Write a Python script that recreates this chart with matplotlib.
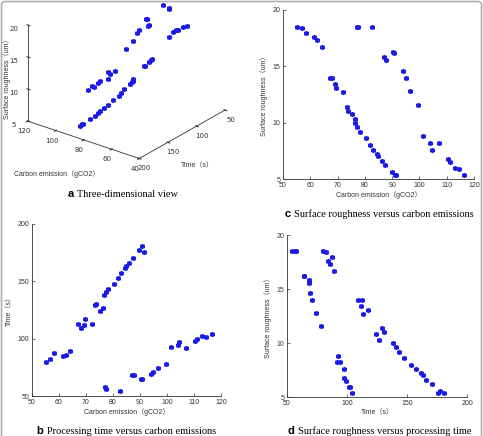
import matplotlib.pyplot as plt
from matplotlib.patches import FancyBboxPatch
import numpy as np

# carbon emission (gCO2), processing time (s), surface roughness (um)
carbon_a = [55.3, 56.8, 58.3, 61.3, 62.5, 64.2, 67.2, 68.0, 69.2, 69.5, 72.1, 73.5, 73.8,
            75.2, 76.4, 76.5, 77.3, 78.1, 80.5, 81.8, 83.1, 84.3, 84.9, 86.1, 87.5, 89.8, 90.9, 91.3]
time_a = [79.6, 82.5, 87.5, 84.5, 85.8, 89.5, 112.5, 109.5, 111.5, 117.5, 113.0, 129.0, 130.5,
          124.5, 127.0, 138.0, 141.0, 143.5, 147.5, 153.0, 157.5, 161.5, 163.0, 166.0, 170.5, 177.5, 180.5, 175.5]
rough_a = [18.5, 18.4, 18.0, 17.6, 17.3, 16.7, 14.0, 14.0, 13.4, 13.1, 12.7, 11.4, 11.0,
           10.8, 10.3, 10.0, 9.6, 9.2, 8.6, 8.0, 7.6, 7.2, 7.0, 6.6, 6.2, 5.6, 5.35, 5.35]

carbon_b = [77.0, 77.5, 82.7, 87.1, 87.6, 90.2, 90.8, 94.0, 94.9, 96.5, 99.6, 101.4, 104.0,
            104.6, 107.2, 110.3, 111.1, 112.9, 114.4, 116.5]
time_b = [57.8, 56.4, 54.5, 68.5, 68.5, 64.5, 64.5, 69.3, 70.5, 74.0, 78.0, 92.5, 94.5,
          97.5, 91.5, 97.8, 99.5, 102.5, 101.5, 104.0]
rough_b = [18.5, 18.5, 18.5, 15.8, 15.6, 16.25, 16.2, 14.6, 14.0, 12.8, 11.6, 8.8, 8.2,
           7.6, 8.2, 6.8, 6.5, 5.95, 5.9, 5.35]

carbon = np.array(carbon_a + carbon_b)
ptime = np.array(time_a + time_b)
rough = np.array(rough_a + rough_b)

c_ticks = [50, 60, 70, 80, 90, 100, 110, 120]
t_ticks = [50, 100, 150, 200]
r_ticks = [5, 10, 15, 20]

W, H = 483, 436
lab_font = ['Liberation Sans', 'Noto Sans CJK SC']
mk = dict(marker=(6, 2, 0), ls='none', color='#1a1ae6', ms=3.6, mew=1.1)

fig = plt.figure(figsize=(W / 100, H / 100), dpi=100)

# outer rounded frame
fig.patches.append(FancyBboxPatch((1.5 / W, -0.05), (W - 3) / W, 1.05 - 1.5 / H,
                                  boxstyle='round,pad=0,rounding_size=0.008',
                                  transform=fig.transFigure, fill=False,
                                  ec='#b0b0b0', lw=1.2))


def ax_at(x0, y0, x1, y1, **kw):
    return fig.add_axes([x0 / W, 1 - y1 / H, (x1 - x0) / W, (y1 - y0) / H], **kw)


def style2d(ax, xlim, xt, ylim, yt, xlabel, ylabel):
    ax.set_xlim(xlim)
    ax.set_ylim(ylim)
    ax.set_xticks(xt)
    ax.set_yticks(yt)
    for s in ['top', 'right']:
        ax.spines[s].set_visible(False)
    for s in ['left', 'bottom']:
        ax.spines[s].set_linewidth(0.6)
        ax.spines[s].set_color('#333333')
    ax.tick_params(direction='in', length=2, width=0.5, labelsize=5, pad=2, colors='#333333')
    for t in ax.get_xticklabels() + ax.get_yticklabels():
        t.set_family('Liberation Sans')
    ax.set_xlabel(xlabel, fontsize=5, family=lab_font, labelpad=2, color='#333333')
    ax.set_ylabel(ylabel, fontsize=5, family=lab_font, labelpad=3, color='#333333')


# c: roughness vs carbon
ax_c = ax_at(283, 10, 474, 179)
ax_c.plot(carbon, rough, **mk)
style2d(ax_c, (50, 120), c_ticks, (5, 20), r_ticks,
        'Carbon emission（gCO2）', 'Surface roughness（um）')

# b: time vs carbon
ax_b = ax_at(32, 224, 221, 396)
ax_b.plot(carbon, ptime, **mk)
style2d(ax_b, (50, 120), c_ticks, (50, 200), t_ticks,
        'Carbon emission（gCO2）', 'Time（s）')

# d: roughness vs time
ax_d = ax_at(287, 235, 467, 397)
ax_d.plot(ptime, rough, **mk)
style2d(ax_d, (50, 200), t_ticks, (5, 20), r_ticks,
        'Time（s）', 'Surface roughness（um）')

# a: 3D view
ax_a = ax_at(14, -39, 233, 180, projection='3d')
ax_a.set_proj_type('ortho')
ax_a.view_init(elev=25.8, azim=-52.4)
ax_a.set_box_aspect((1, 1, 0.76))
ax_a.plot(carbon, ptime, rough, **mk)
ax_a.set_xlim(120, 40)
ax_a.set_ylim(200, 50)
ax_a.set_zlim(5, 20)
ax_a.set_xticks([40, 60, 80, 100, 120])
ax_a.set_yticks(t_ticks)
ax_a.set_zticks(r_ticks)
ax_a.grid(False)
for axis in (ax_a.xaxis, ax_a.yaxis, ax_a.zaxis):
    axis.set_pane_color((1, 1, 1, 0))
    axis.pane.set_edgecolor((1, 1, 1, 0))
    axis.line.set_linewidth(0.6)
    axis.line.set_color('#333333')
ax_a.zaxis.set_ticks_position('upper')
ax_a.zaxis.set_label_position('upper')
ax_a.tick_params(labelsize=5, colors='#333333')
ax_a.xaxis.set_tick_params(pad=-4)
ax_a.yaxis.set_tick_params(pad=-4)
ax_a.zaxis.set_tick_params(pad=-2)
ax_a.patch.set_alpha(0)
fig.text(7 / W, 1 - 77 / H, 'Surface roughness（um）', rotation=90, fontsize=5,
         family=lab_font, ha='center', va='center', color='#333333')
fig.text(57 / W, 1 - 174 / H, 'Carbon emission（gCO2）', fontsize=5,
         family=lab_font, ha='center', va='center', color='#333333')
fig.text(197 / W, 1 - 166 / H, 'Time（s）', fontsize=5,
         family=lab_font, ha='center', va='center', color='#333333')


def caption(x, y, letter, text):
    t = fig.text(x / W, 1 - y / H, letter + ' ', fontsize=8, fontweight='bold',
                 family='Liberation Sans', ha='left', va='center')
    fig.canvas.draw()
    bb = t.get_window_extent()
    fig.text(bb.x1 / W, 1 - y / H, text, fontsize=7.5, family='Liberation Serif',
             ha='left', va='center')


caption(68, 194, 'a', 'Three-dimensional view')
caption(285, 214, 'c', 'Surface roughness versus carbon emissions')
caption(37, 431, 'b', 'Processing time versus carbon emissions')
caption(288, 431, 'd', 'Surface roughness versus processing time')

fig.savefig('out.png', dpi=100)
